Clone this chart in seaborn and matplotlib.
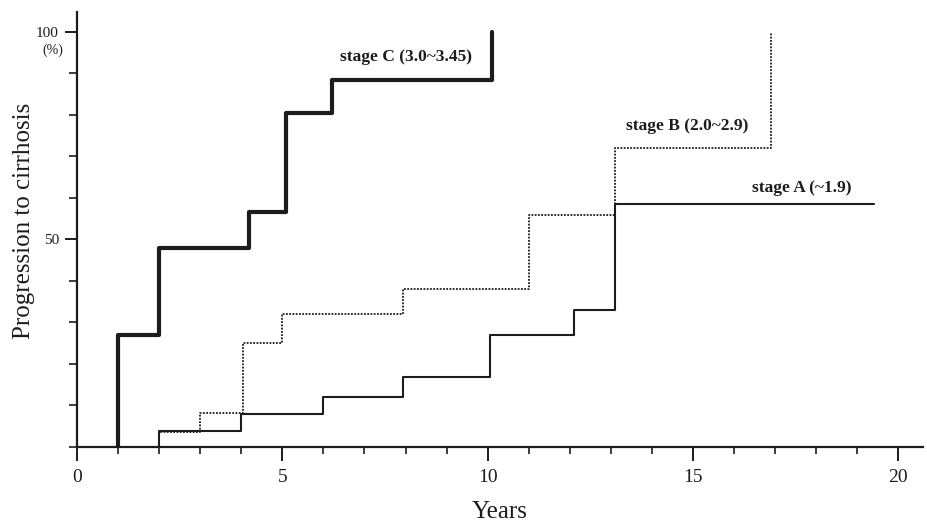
import numpy as np
import pandas as pd
import matplotlib
matplotlib.use("Agg")
import matplotlib.pyplot as plt
import seaborn as sns
from matplotlib.ticker import MultipleLocator, FixedLocator

# ---- data ----
stage_c_years = [1.0, 1.0, 2.0, 4.2, 5.1, 6.2, 10.1]
stage_c_pct = [0.0, 27.0, 48.0, 56.5, 80.5, 88.5, 100.0]

stage_b_years = [2.0, 2.0, 3.0, 4.05, 5.0, 7.95, 11.0, 13.1, 16.9]
stage_b_pct = [0.0, 3.6, 8.2, 25.0, 32.0, 38.0, 56.0, 72.0, 100.0]

stage_a_years = [2.0, 2.0, 4.0, 6.0, 7.95, 10.05, 12.1, 13.1, 19.4]
stage_a_pct = [0.0, 3.9, 8.0, 12.0, 16.8, 27.0, 33.0, 58.5, 58.5]

series_labels = ["stage C (3.0~3.45)", "stage B (2.0~2.9)", "stage A (~1.9)"]
x_tick_values = [0, 5, 10, 15, 20]
y_tick_values = [50, 100]
y_tick_labels = ["50", "100"]

df_c = pd.DataFrame({"Years": stage_c_years, "pct": stage_c_pct})
df_b = pd.DataFrame({"Years": stage_b_years, "pct": stage_b_pct})
df_a = pd.DataFrame({"Years": stage_a_years, "pct": stage_a_pct})

sns.set_style("ticks")
plt.rcParams["font.family"] = ["Liberation Serif", "DejaVu Serif"]

ink = "#1c1c1c"
fig = plt.figure(figsize=(9.28, 5.26), dpi=100)
ax = fig.add_axes([77 / 928, 79 / 526, 846 / 928, 435 / 526])

sns.lineplot(data=df_c, x="Years", y="pct", ax=ax, color=ink, linewidth=3.0,
             drawstyle="steps-post", sort=False, estimator=None)
sns.lineplot(data=df_b, x="Years", y="pct", ax=ax, color=ink, linewidth=1.3,
             linestyle=(0, (1, 0.8)), drawstyle="steps-post", sort=False, estimator=None)
sns.lineplot(data=df_a, x="Years", y="pct", ax=ax, color=ink, linewidth=1.5,
             drawstyle="steps-post", sort=False, estimator=None)

ax.set_xlim(0, 20.6)
ax.set_ylim(0, 104.8)
sns.despine(ax=ax)
for s in ["left", "bottom"]:
    ax.spines[s].set_linewidth(1.6)
    ax.spines[s].set_color(ink)

ax.xaxis.set_major_locator(FixedLocator(x_tick_values))
ax.xaxis.set_minor_locator(MultipleLocator(1))
ax.yaxis.set_major_locator(FixedLocator(y_tick_values))
ax.set_yticklabels(y_tick_labels)
ax.yaxis.set_minor_locator(MultipleLocator(10))
ax.tick_params(axis="x", which="major", length=10, width=1.4, pad=6,
               labelsize=14, colors=ink)
ax.tick_params(axis="x", which="minor", length=5, width=1.2, colors=ink)
ax.tick_params(axis="y", which="major", length=9, width=1.4, pad=4,
               labelsize=11, colors=ink)
ax.tick_params(axis="y", which="minor", length=6, width=1.2, colors=ink)

ax.set_xlabel("Years", fontsize=18, color=ink)
ax.xaxis.set_label_coords(0.5, -0.125)
ax.set_ylabel("Progression to cirrhosis", fontsize=18, color=ink)
ax.yaxis.set_label_coords(-0.050, 0.52)

ax.text(-0.6, 95.7, "(%)", fontsize=10, ha="center", va="center",
        color=ink, clip_on=False)

ax.text(8.02, 94.0, series_labels[0], fontsize=12.5, ha="center", va="center",
        color=ink, fontweight="bold")
ax.text(14.85, 77.3, series_labels[1], fontsize=12.5, ha="center", va="center",
        color=ink, fontweight="bold")
ax.text(17.64, 62.4, series_labels[2], fontsize=12.5, ha="center", va="center",
        color=ink, fontweight="bold")

fig.savefig("out.png", dpi=100, facecolor="white")
